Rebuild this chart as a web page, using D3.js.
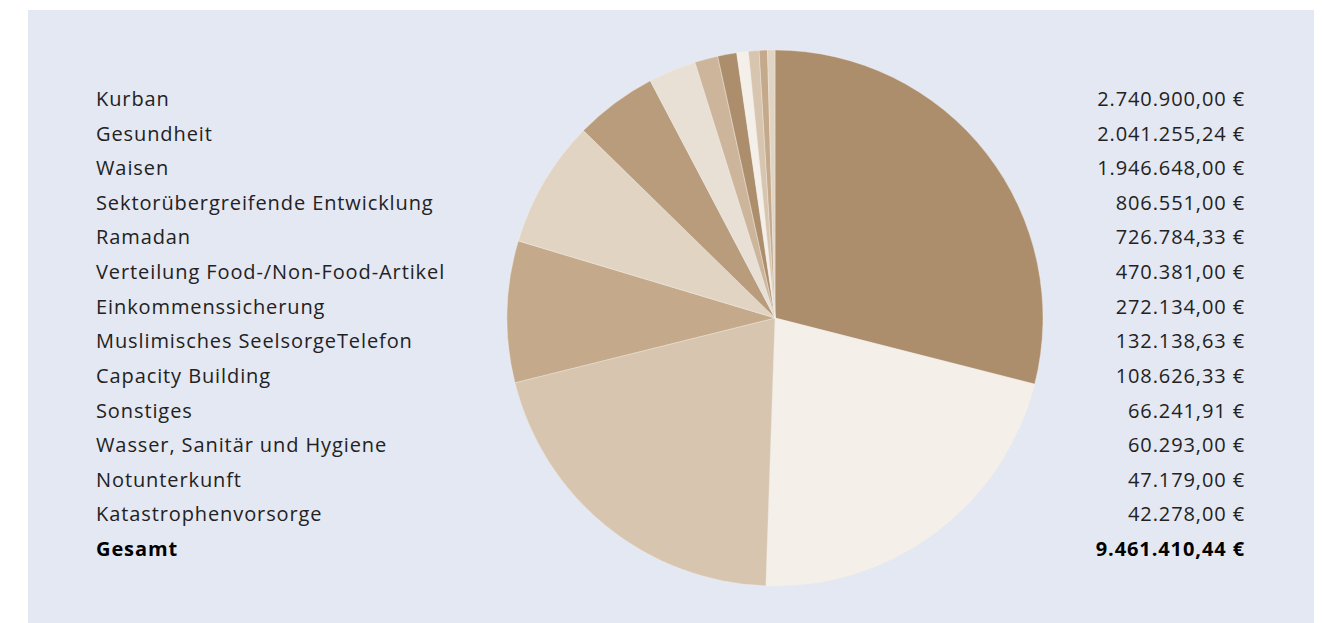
<!DOCTYPE html>
<html>
<head>
<meta charset="utf-8">
<script src="https://cdn.jsdelivr.net/npm/d3@7"></script>
<style>
html,body{margin:0;padding:0;background:#fff;}
svg{display:block;}
</style>
</head>
<body>
<svg id="chart" width="1322" height="623"></svg>
<script>
const categories = ["Kurban","Gesundheit","Waisen","Sektorübergreifende Entwicklung","Ramadan","Verteilung Food-/Non-Food-Artikel","Einkommenssicherung","Muslimisches SeelsorgeTelefon","Capacity Building","Sonstiges","Wasser, Sanitär und Hygiene","Notunterkunft","Katastrophenvorsorge"];
const values = [2740900.00,2041255.24,1946648.00,806551.00,726784.33,470381.00,272134.00,132138.63,108626.33,66241.91,60293.00,47179.00,42278.00];
const valueLabels = ["2.740.900,00 €","2.041.255,24 €","1.946.648,00 €","806.551,00 €","726.784,33 €","470.381,00 €","272.134,00 €","132.138,63 €","108.626,33 €","66.241,91 €","60.293,00 €","47.179,00 €","42.278,00 €"];
const totalLabel = "Gesamt";
const totalValueLabel = "9.461.410,44 €";
const palette = ["#AD8E6C","#F4EFE9","#D7C5B0","#C4A98B","#E2D4C3","#B99C7B","#E8DFD5","#CDB59C"];

const svg = d3.select("#chart");
svg.append("rect").attr("x",28).attr("y",10).attr("width",1286).attr("height",613).attr("fill","#E4E8F3");

const cx = 775, cy = 318, R = 268;
const pie = d3.pie().value(d=>d).sort(null);
const arc = d3.arc().innerRadius(0).outerRadius(R);
const color = d3.scaleOrdinal().domain(d3.range(categories.length)).range(palette);
svg.append("g").attr("transform",`translate(${cx},${cy})`)
  .selectAll("path").data(pie(values)).join("path")
  .attr("d",arc).attr("fill",(d,i)=>color(i))
  .attr("stroke","#F4EFE9").attr("stroke-width",0.4);

const y = d3.scalePoint().domain(d3.range(categories.length+1)).range([99,549]);
const font = "'Open Sans', sans-serif";
const lg = svg.append("g").attr("font-family",font).attr("font-size",20).attr("letter-spacing","0.9px").attr("fill","#222");
lg.selectAll("text.l").data(categories).join("text").attr("class","l")
  .attr("x",96).attr("y",(d,i)=>y(i)).attr("dy","0.35em").text(d=>d);
lg.selectAll("text.v").data(valueLabels).join("text").attr("class","v")
  .attr("x",1245).attr("y",(d,i)=>y(i)).attr("dy","0.35em").attr("text-anchor","end").text(d=>d);
lg.append("text").attr("x",96).attr("y",y(categories.length)).attr("dy","0.35em").attr("font-weight","bold").attr("fill","#000").text(totalLabel);
lg.append("text").attr("x",1245).attr("y",y(categories.length)).attr("dy","0.35em").attr("text-anchor","end").attr("font-weight","bold").attr("fill","#000").text(totalValueLabel);
</script>
</body>
</html>
